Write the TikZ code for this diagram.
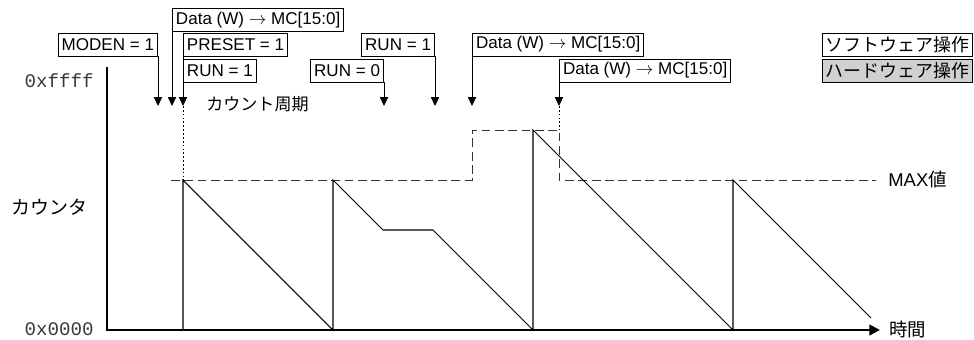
\documentclass[tikz,border=0pt]{standalone}
\usepackage{fontspec}
\setmainfont{Liberation Sans}
\setmonofont{Liberation Mono}
\newfontfamily\jpfont{Noto Sans CJK JP}
\usetikzlibrary{arrows.meta,positioning}
\definecolor{hwgray}{HTML}{D0D0D0}
\definecolor{axgray}{HTML}{383838}

\begin{document}
\begin{tikzpicture}[x=0.02cm, y=-0.02cm, every node/.style={font=\fontsize{9.7}{11}\selectfont, inner sep=0pt},
    swbox/.style={draw, fill=white, line width=0.55pt, inner xsep=2pt, minimum height=0.46cm},
    hwbox/.style={swbox, fill=hwgray},
    trig/.style={-{Triangle[length=5pt, width=4.6pt]}, line width=0.55pt},
    saw/.style={line width=0.6pt},
    maxline/.style={line width=0.5pt, black!80, dash pattern=on 5pt off 2.6pt},
    guide/.style={line width=0.55pt, dash pattern=on 1pt off 1.2pt}]
      \useasboundingbox (0,0) rectangle (974,339);
      \node[swbox, anchor=west] (data1) at (172,20) {Data (W) $\rightarrow$ MC[15:0]};
      \node[swbox, anchor=east] (moden) at (158,44.5) {MODEN = 1};
      \node[swbox, anchor=west] (preset) at (183,44.5) {PRESET = 1};
      \node[swbox, anchor=west] (runa) at (183,70.5) {RUN = 1};
      \node[swbox, anchor=east] (runb) at (384,70.5) {RUN = 0};
      \node[swbox, anchor=east] (runc) at (435,44.5) {RUN = 1};
      \node[swbox, anchor=west] (data2) at (472,44.5) {Data (W) $\rightarrow$ MC[15:0]};
      \node[swbox, anchor=west] (data3) at (559,70.5) {Data (W) $\rightarrow$ MC[15:0]};
      \node[swbox, anchor=east, minimum width=3cm, font=\fontsize{10.2}{12}\jpfont] (soft) at (973,44.5) {ソフトウェア操作};
      \node[hwbox, anchor=east, minimum width=3cm, font=\fontsize{10.2}{12}\jpfont] (hard) at (973,70.5) {ハードウェア操作};
      \coordinate (tip) at (0,106);
      \draw[trig] (moden.south east) -- (moden.south east |- tip);
      \draw[trig] (data1.south west) -- (data1.south west |- tip);
      \draw[trig] (preset.south west) -- (preset.south west |- tip);
      \draw[trig] (runb.south east) -- (runb.south east |- tip);
      \draw[trig] (runc.south east) -- (runc.south east |- tip);
      \draw[trig] (data2.south west) -- (data2.south west |- tip);
      \draw[trig] (data3.south west) -- (data3.south west |- tip);
      \node[anchor=west, font=\fontsize{9.7}{11}\jpfont] (period) at (206,104) {カウント周期};
      \draw[guide] (preset.south west |- tip) -- (183,180);
      \draw[guide] (data3.south west |- tip) -- (559,130);
      \draw[maxline] (171,180) -- (472,180) -- (472,130) -- (559,130) -- (559,180) -- (876,180);
      \draw[saw] (183,330) -- (183,180) -- (333,330) -- (333,180) -- (383,230) -- (433,230) -- (533,330) -- (533,130) -- (733,330) -- (733,180) -- (871,318);
      \draw[line width=1.2pt, -{Triangle[length=6pt, width=6pt]}] (107,67) -- (107,330) -- (880,330);
      \node[anchor=east, font=\fontsize{10.9}{12}\ttfamily, text=axgray] (ytop) at (94,81) {0xffff};
      \node[anchor=east, font=\fontsize{10.9}{12}\ttfamily, text=axgray] (ybot) at (94,329) {0x0000};
      \node[anchor=west, font=\fontsize{10.8}{12}\jpfont] (count) at (11,207) {カウンタ};
      \node[anchor=west, font=\fontsize{10.5}{12}\selectfont] (maxv) at (888,179) {MAX{\jpfont 値}};
      \node[anchor=west, font=\fontsize{10.5}{12}\jpfont] (time) at (889,329) {時間};
    \end{tikzpicture}
\end{document}
